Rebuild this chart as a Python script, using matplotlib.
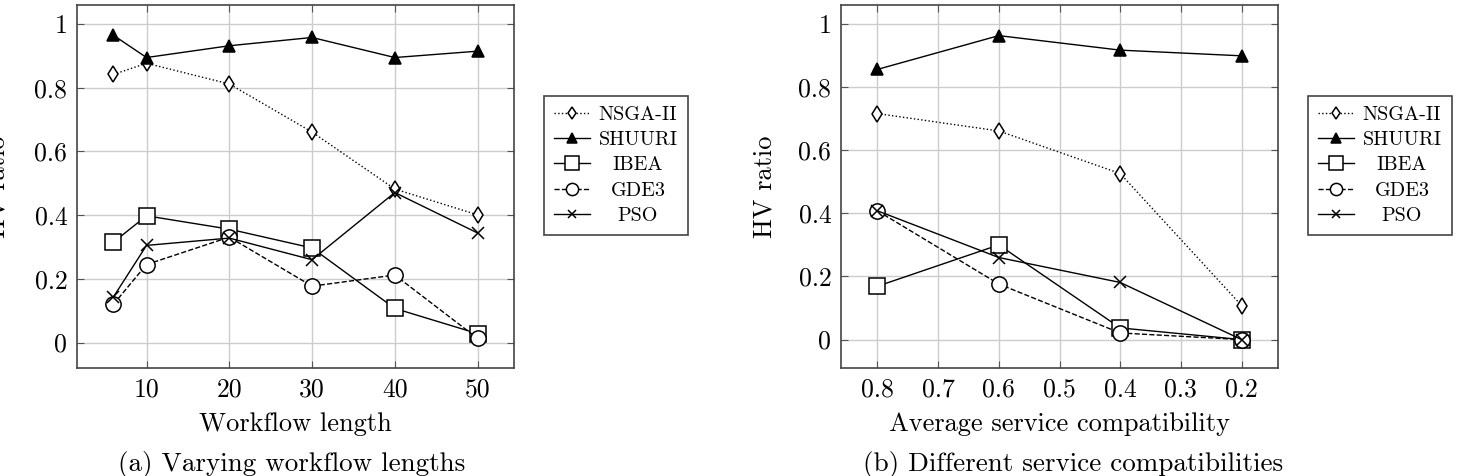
import numpy as np
import matplotlib
matplotlib.use('Agg')
import matplotlib.pyplot as plt
from matplotlib.ticker import FuncFormatter

plt.rcParams['font.family'] = 'cmr10'
plt.rcParams['mathtext.fontset'] = 'cm'
plt.rcParams['axes.formatter.use_mathtext'] = True

# ----- data -----
lengths = [6, 10, 20, 30, 40, 50]
nsga_a = [0.842, 0.877, 0.812, 0.661, 0.482, 0.401]
shuuri_a = [0.965, 0.895, 0.932, 0.958, 0.895, 0.915]
ibea_a = [0.315, 0.398, 0.356, 0.297, 0.107, 0.028]
gde3_a = [0.120, 0.245, 0.331, 0.177, 0.212, 0.013]
pso_a = [0.143, 0.305, 0.328, 0.260, 0.471, 0.344]

compat = [0.8, 0.6, 0.4, 0.2]
nsga_b = [0.716, 0.661, 0.526, 0.108]
shuuri_b = [0.856, 0.963, 0.917, 0.899]
ibea_b = [0.169, 0.300, 0.037, 0.0]
gde3_b = [0.408, 0.176, 0.021, 0.0]
pso_b = [0.408, 0.260, 0.181, 0.0]

names = ['NSGA-II', 'SHUURI', 'IBEA', 'GDE3', 'PSO']

# style per series: (linestyle, marker, markersize, face)
styles = {
    'NSGA-II': (':', 'd', 8, 'white'),
    'SHUURI': ('-', '^', 9, 'black'),
    'IBEA': ('-', 's', 12, 'white'),
    'GDE3': ('--', 'o', 11, 'white'),
    'PSO': ('-', 'x', 8, 'black'),
}

fig = plt.figure(figsize=(14.59, 4.76), dpi=100)
ax1 = fig.add_axes([77 / 1459, 108 / 476, 437 / 1459, 363 / 476])
ax2 = fig.add_axes([841 / 1459, 108 / 476, 437 / 1459, 363 / 476])


def draw(ax, x, series):
    for name, y in zip(names, series):
        ls, mk, ms, fc = styles[name]
        ax.plot(x, y, linestyle=ls, marker=mk, markersize=ms, color='black',
                markerfacecolor=fc, markeredgecolor='black', linewidth=1.0,
                markeredgewidth=1.1, label=name, zorder=3)
    ax.grid(True, color='#cccccc', linewidth=1.0, zorder=0)
    ax.tick_params(direction='in', top=True, right=True, length=5,
                   color='#555555', labelsize=18.5, pad=7)
    for s in ax.spines.values():
        s.set_color('#444444')
        s.set_linewidth(1.2)
    ax.set_yticks([0, 0.2, 0.4, 0.6, 0.8, 1])
    ax.yaxis.set_major_formatter(FuncFormatter(lambda v, p: '%g' % round(v, 2)))
    ax.xaxis.set_major_formatter(FuncFormatter(lambda v, p: '%g' % round(v, 2)))


draw(ax1, lengths, [nsga_a, shuuri_a, ibea_a, gde3_a, pso_a])
ax1.set_xlim(1.6, 54.4)
ax1.set_ylim(-0.08, 1.06)
ax1.set_xticks([10, 20, 30, 40, 50])
ax1.set_xlabel('Workflow length', fontsize=19, labelpad=8)
ax1.set_ylabel('HV ratio', fontsize=19, labelpad=18)

draw(ax2, compat, [nsga_b, shuuri_b, ibea_b, gde3_b, pso_b])
ax2.set_xlim(0.86, 0.14)
ax2.set_ylim(-0.09, 1.06)
ax2.set_xticks([0.8, 0.7, 0.6, 0.5, 0.4, 0.3, 0.2])
ax2.set_xlabel('Average service compatibility', fontsize=19, labelpad=8)
ax2.set_ylabel('HV ratio', fontsize=19, labelpad=16)

legends = []
for ax, x0 in [(ax1, 544), (ax2, 1308)]:
    leg = ax.legend(loc='upper left', bbox_to_anchor=(x0 / 1459, (476 - 96) / 476),
                    bbox_transform=fig.transFigure, borderaxespad=0,
                    fontsize=14.5, handlelength=1.8, handletextpad=0.4,
                    labelspacing=0.35, borderpad=0.5, fancybox=False, framealpha=1,
                    edgecolor='#444444', markerscale=0.8)
    leg.get_frame().set_linewidth(1.2)
    legends.append(leg)

fig.text(292 / 1459, 1 - 465 / 476, '(a) Varying workflow lengths', fontsize=19.5,
         ha='center', va='center')
fig.text(1073 / 1459, 1 - 465 / 476, '(b) Different service compatibilities', fontsize=19.5,
         ha='center', va='center')

# centre legend labels in their column, like pgfplots does
fig.canvas.draw()
for leg in legends:
    texts = leg.get_texts()
    widths = [t.get_window_extent().width for t in texts]
    wmax = max(widths)
    for t, w in zip(texts, widths):
        t.set_x((wmax - w) / 2)

fig.savefig('out.png', dpi=100)
